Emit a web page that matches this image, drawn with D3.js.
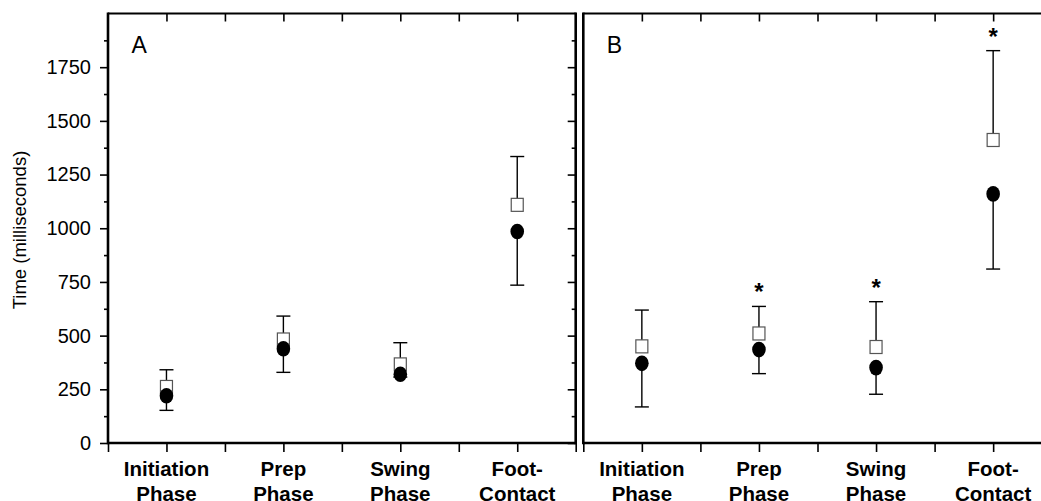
<!DOCTYPE html>
<html>
<head>
<meta charset="utf-8">
<script src="https://cdn.jsdelivr.net/npm/d3@7"></script>
<style>
  body { margin: 0; background: #fff; }
  svg { display: block; font-family: "Liberation Sans", Arial, sans-serif; }
</style>
</head>
<body>
<div id="chart"></div>
<script>
// categories (two-line labels) and their slot on the 0..8 x domain
var categories = [["Initiation", "Phase"], ["Prep", "Phase"], ["Swing", "Phase"], ["Foot-", "Contact"]];
var catPos = [1, 3, 5, 7];

// panel A
var aSquare = [261, 482, 366, 1109];
var aSquareUp = [341, 591, 467, 1334];
var aCircle = [220, 439, 320, 985];
var aCircleDown = [152, 329, 307, 735];

// panel B
var bSquare = [450, 510, 447, 1411];
var bSquareUp = [619, 636, 658, 1827];
var bCircle = [371, 435, 351, 1160];
var bCircleDown = [168, 323, 227, 810];
var bSignif = [false, true, true, true];

var majorTicks = [0, 250, 500, 750, 1000, 1250, 1500, 1750];
var minorTicks = [125, 375, 625, 875, 1125, 1375, 1625, 1875];

var W = 1041, H = 501;
var yTop = 13.5, yBottom = 443;

var svg = d3.select("#chart").append("svg")
  .attr("width", W).attr("height", H);

var y = d3.scaleLinear().domain([0, 2000]).range([yBottom, yTop]);

var xA = d3.scaleLinear().domain([0, 8]).range([108, 575.7]);
var xB = d3.scaleLinear().domain([0, 8]).range([583.3, 1051.7]);

function styleAxis(g) {
  g.select(".domain").remove();
  g.selectAll("line").attr("stroke", "#000").attr("stroke-width", 1.6);
  g.selectAll("text").attr("fill", "#000");
}

// y axis of panel A (outside, with labels)
svg.append("g").attr("transform", "translate(108,0)")
  .call(d3.axisLeft(y).tickValues(majorTicks).tickSize(8).tickPadding(9).tickFormat(d3.format("d")))
  .call(styleAxis)
  .selectAll("text").style("font-size", "20px").style("font-family", "Liberation Sans, Arial, sans-serif");
svg.append("g").attr("transform", "translate(108,0)")
  .call(d3.axisLeft(y).tickValues(minorTicks).tickSize(4).tickFormat(""))
  .call(styleAxis);

// inward ticks on right edge of panel A
svg.append("g").attr("transform", "translate(575.7,0)")
  .call(d3.axisLeft(y).tickValues(majorTicks).tickSize(8).tickFormat(""))
  .call(styleAxis);
svg.append("g").attr("transform", "translate(575.7,0)")
  .call(d3.axisLeft(y).tickValues(minorTicks).tickSize(4).tickFormat(""))
  .call(styleAxis);

// y axis title
svg.append("text")
  .attr("transform", "translate(25.5," + 230 + ") rotate(-90)")
  .attr("text-anchor", "middle")
  .style("font-size", "18.5px")
  .text("Time (milliseconds)");

function drawPanel(x, label, sq, sqUp, ci, ciDown, signif) {
  // top ticks (inward)
  svg.append("g").attr("transform", "translate(0," + yTop + ")")
    .call(d3.axisBottom(x).tickValues([1, 2, 3, 4, 5, 6, 7]).tickSize(8).tickFormat(""))
    .call(styleAxis);
  // bottom ticks (outward)
  svg.append("g").attr("transform", "translate(0," + yBottom + ")")
    .call(d3.axisBottom(x).tickValues([0, 1, 2, 3, 4, 5, 6, 7, 8]).tickSize(9).tickFormat(""))
    .call(styleAxis);

  // frame
  var x0 = x(0), x1 = x(8);
  svg.append("line").attr("x1", x0).attr("x2", x1).attr("y1", yTop).attr("y2", yTop)
    .attr("stroke", "#000").attr("stroke-width", 2);
  svg.append("line").attr("x1", x0).attr("x2", x1).attr("y1", yBottom).attr("y2", yBottom)
    .attr("stroke", "#000").attr("stroke-width", 2.6);
  svg.append("line").attr("x1", x0).attr("x2", x0).attr("y1", yTop - 1).attr("y2", yBottom + 1.3)
    .attr("stroke", "#000").attr("stroke-width", 2.6);
  svg.append("line").attr("x1", x1).attr("x2", x1).attr("y1", yTop - 1).attr("y2", yBottom + 1.3)
    .attr("stroke", "#000").attr("stroke-width", 2.6);

  // panel letter
  svg.append("text").attr("x", x(0.4)).attr("y", 52.5)
    .style("font-size", "23px").text(label);

  // category labels
  var lab = svg.append("g").selectAll("text").data(categories).enter()
    .append("text")
    .attr("text-anchor", "middle")
    .style("font-size", "20.5px").style("font-weight", "bold");
  lab.append("tspan").attr("x", function(d, i) { return x(catPos[i]); }).attr("y", 476)
    .text(function(d) { return d[0]; });
  lab.append("tspan").attr("x", function(d, i) { return x(catPos[i]); }).attr("y", 501)
    .text(function(d) { return d[1]; });

  var cap = 7;
  var g = svg.append("g");
  catPos.forEach(function(p, i) {
    var cx = x(p);
    // upper whisker of squares
    g.append("line").attr("x1", cx).attr("x2", cx).attr("y1", y(sq[i])).attr("y2", y(sqUp[i]))
      .attr("stroke", "#000").attr("stroke-width", 1.4);
    g.append("line").attr("x1", cx - cap).attr("x2", cx + cap).attr("y1", y(sqUp[i])).attr("y2", y(sqUp[i]))
      .attr("stroke", "#000").attr("stroke-width", 1.4);
    // lower whisker of circles
    g.append("line").attr("x1", cx).attr("x2", cx).attr("y1", y(ci[i])).attr("y2", y(ciDown[i]))
      .attr("stroke", "#000").attr("stroke-width", 1.4);
    g.append("line").attr("x1", cx - cap).attr("x2", cx + cap).attr("y1", y(ciDown[i])).attr("y2", y(ciDown[i]))
      .attr("stroke", "#000").attr("stroke-width", 1.4);
    // open square
    g.append("rect").attr("x", cx - 6).attr("y", y(sq[i]) - 6.5)
      .attr("width", 12).attr("height", 13)
      .attr("fill", "#fff").attr("stroke", "#555").attr("stroke-width", 1.2);
    // filled circle
    g.append("ellipse").attr("cx", cx).attr("cy", y(ci[i]))
      .attr("rx", 6.8).attr("ry", 7.8).attr("fill", "#000");
    if (signif && signif[i]) {
      g.append("text").attr("x", cx).attr("y", y(sqUp[i]) - 6)
        .attr("text-anchor", "middle")
        .style("font-size", "24px").style("font-weight", "bold")
        .text("*");
    }
  });
}

drawPanel(xA, "A", aSquare, aSquareUp, aCircle, aCircleDown, null);
drawPanel(xB, "B", bSquare, bSquareUp, bCircle, bCircleDown, bSignif);
</script>
</body>
</html>
